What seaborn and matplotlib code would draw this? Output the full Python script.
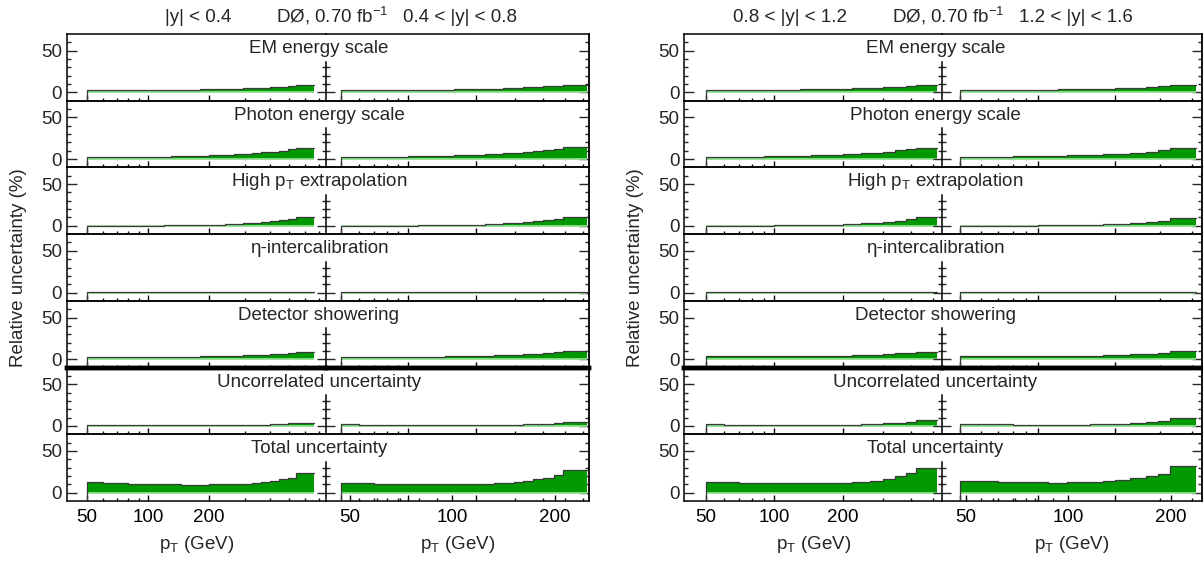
# jes_uncertainties.py
# DØ inclusive jet: relative uncertainty breakdown per rapidity bin

import numpy as np
import pandas as pd
import matplotlib
matplotlib.use("Agg")
import matplotlib.pyplot as plt
import seaborn as sns
from matplotlib.ticker import FixedLocator, NullFormatter, FixedFormatter

sns.set_style("white")
plt.rcParams["font.family"] = ["Liberation Sans", "DejaVu Sans"]
plt.rcParams["mathtext.fontset"] = "custom"
plt.rcParams["mathtext.rm"] = "Liberation Sans"
plt.rcParams["mathtext.it"] = "Liberation Sans:italic"

# ---- data -------------------------------------------------------------
rapidity_labels = ["|y| < 0.4", "0.4 < |y| < 0.8", "0.8 < |y| < 1.2", "1.2 < |y| < 1.6"]
experiment_label = r"DØ, 0.70 fb$^{\mathrm{-1}}$"
source_names = ["EM energy scale", "Photon energy scale",
                r"High p$_\mathrm{T}$ extrapolation", "η-intercalibration",
                "Detector showering", "Uncorrelated uncertainty", "Total uncertainty"]
xlabel_text = r"p$_\mathrm{T}$ (GeV)"
ylabel_text = "Relative uncertainty (%)"
tick_labels = ["50", "100", "200"]

# pT bin edges (GeV) per rapidity bin
edges_y0 = [50, 60, 70, 80, 90, 100, 110, 120, 130, 145, 160, 180, 200, 220, 240, 265, 295, 325, 360, 400, 445, 490, 540, 665]
edges_y1 = [50, 60, 70, 80, 90, 100, 110, 120, 130, 145, 160, 180, 200, 220, 240, 265, 295, 325, 360, 400, 445, 490, 630]
edges_y2 = [50, 60, 70, 80, 90, 100, 110, 120, 130, 145, 160, 180, 200, 220, 240, 265, 300, 340, 380, 420, 520]
edges_y3 = [50, 60, 70, 80, 90, 100, 110, 120, 130, 145, 160, 180, 200, 230, 265, 295, 330, 415]

# relative uncertainties (%), one list per rapidity bin
em_scale = [
    [2.5, 2.5, 2.6, 2.7, 2.8, 2.9, 3.0, 3.0, 3.1, 3.2, 3.4, 3.5, 3.7, 3.9, 4.1, 4.4, 4.8, 5.2, 5.7, 6.2, 6.8, 7.5, 8.5],
    [2.7, 2.7, 2.8, 2.8, 2.9, 3.0, 3.1, 3.2, 3.3, 3.4, 3.6, 3.8, 4.0, 4.3, 4.6, 5.0, 5.5, 6.0, 6.6, 7.3, 8.0, 9.0],
    [2.8, 2.8, 2.9, 3.0, 3.1, 3.2, 3.3, 3.4, 3.5, 3.7, 3.9, 4.1, 4.4, 4.7, 5.1, 5.6, 6.2, 6.9, 7.7, 8.5],
    [2.9, 2.9, 3.0, 3.1, 3.2, 3.3, 3.4, 3.5, 3.7, 3.9, 4.1, 4.5, 4.9, 5.5, 6.2, 7.1, 8.5],
]
photon_scale = [
    [2.0, 2.2, 2.4, 2.5, 2.7, 2.8, 3.0, 3.1, 3.3, 3.5, 3.8, 4.1, 4.4, 4.8, 5.2, 5.7, 6.4, 7.1, 8.0, 9.0, 10.2, 11.5, 13.5],
    [2.2, 2.4, 2.6, 2.8, 3.0, 3.2, 3.4, 3.6, 3.8, 4.1, 4.4, 4.8, 5.2, 5.7, 6.2, 6.9, 7.7, 8.6, 9.6, 10.8, 12.2, 14.0],
    [2.4, 2.6, 2.8, 3.0, 3.2, 3.4, 3.6, 3.8, 4.1, 4.4, 4.8, 5.2, 5.7, 6.3, 7.0, 7.9, 9.0, 10.3, 11.7, 13.5],
    [2.6, 2.8, 3.0, 3.2, 3.4, 3.6, 3.8, 4.1, 4.4, 4.8, 5.3, 5.9, 6.6, 7.6, 8.8, 10.3, 13.0],
]
high_pt = [
    [0.0, 0.0, 0.1, 0.1, 0.2, 0.3, 0.3, 0.4, 0.5, 0.6, 0.8, 1.0, 1.2, 1.5, 1.8, 2.2, 2.8, 3.4, 4.3, 5.3, 6.5, 8.0, 10.5],
    [0.0, 0.1, 0.1, 0.2, 0.2, 0.3, 0.4, 0.5, 0.6, 0.8, 1.0, 1.2, 1.5, 1.9, 2.3, 2.9, 3.6, 4.5, 5.5, 6.8, 8.5, 11.0],
    [0.0, 0.1, 0.1, 0.2, 0.3, 0.4, 0.5, 0.6, 0.7, 0.9, 1.2, 1.5, 1.9, 2.4, 3.0, 3.8, 4.9, 6.3, 8.0, 11.0],
    [0.0, 0.1, 0.2, 0.2, 0.3, 0.4, 0.5, 0.6, 0.8, 1.0, 1.3, 1.7, 2.3, 3.2, 4.4, 6.0, 9.5],
]
eta_intercal = [
    [0.6, 0.6, 0.6, 0.6, 0.6, 0.6, 0.6, 0.6, 0.6, 0.6, 0.6, 0.6, 0.6, 0.6, 0.6, 0.6, 0.6, 0.6, 0.6, 0.6, 0.6, 0.6, 0.6],
    [0.6, 0.6, 0.6, 0.6, 0.6, 0.6, 0.6, 0.6, 0.6, 0.6, 0.6, 0.6, 0.6, 0.6, 0.6, 0.6, 0.6, 0.6, 0.6, 0.6, 0.6, 0.6],
    [0.6, 0.6, 0.6, 0.6, 0.6, 0.6, 0.6, 0.6, 0.6, 0.6, 0.6, 0.6, 0.6, 0.6, 0.6, 0.6, 0.6, 0.6, 0.6, 0.6],
    [0.6, 0.6, 0.6, 0.6, 0.6, 0.6, 0.6, 0.6, 0.6, 0.6, 0.6, 0.6, 0.6, 0.6, 0.6, 0.6, 0.6],
]
showering = [
    [3.0, 2.9, 2.8, 2.8, 2.8, 2.8, 2.9, 2.9, 3.0, 3.1, 3.2, 3.3, 3.5, 3.7, 3.9, 4.2, 4.6, 5.0, 5.5, 6.0, 6.6, 7.3, 8.3],
    [3.2, 3.1, 3.0, 3.0, 3.0, 3.0, 3.1, 3.1, 3.2, 3.3, 3.5, 3.7, 3.9, 4.2, 4.5, 4.9, 5.4, 6.0, 6.7, 7.5, 8.5, 10.0],
    [3.5, 3.4, 3.3, 3.3, 3.3, 3.3, 3.4, 3.4, 3.5, 3.6, 3.8, 4.0, 4.3, 4.6, 5.0, 5.5, 6.2, 7.0, 8.0, 9.2],
    [3.8, 3.7, 3.6, 3.6, 3.6, 3.6, 3.7, 3.8, 3.9, 4.0, 4.2, 4.5, 5.0, 5.7, 6.5, 7.5, 9.5],
]
uncorrelated = [
    [1.6, 1.4, 1.3, 1.2, 1.1, 1.1, 1.0, 1.0, 1.0, 1.0, 1.0, 1.0, 1.0, 1.1, 1.1, 1.2, 1.3, 1.5, 1.7, 2.0, 2.4, 3.0, 3.8],
    [1.8, 1.5, 1.3, 1.2, 1.1, 1.1, 1.0, 1.0, 1.0, 1.0, 1.0, 1.1, 1.1, 1.2, 1.3, 1.5, 1.7, 2.0, 2.4, 2.9, 3.6, 5.0],
    [2.0, 1.7, 1.5, 1.4, 1.3, 1.2, 1.2, 1.2, 1.2, 1.2, 1.3, 1.4, 1.5, 1.7, 2.0, 2.4, 3.0, 3.9, 5.2, 7.5],
    [2.3, 2.0, 1.8, 1.6, 1.5, 1.5, 1.5, 1.5, 1.5, 1.6, 1.8, 2.1, 2.6, 3.4, 4.5, 6.2, 10.0],
]
total = [
    [12.5, 11.8, 11.2, 10.8, 10.5, 10.2, 10.0, 9.9, 9.8, 9.7, 9.7, 9.7, 9.8, 9.9, 10.0, 10.3, 10.8, 11.5, 12.5, 14.5, 16.0, 18.0, 23.4],
    [12.0, 11.0, 10.5, 10.2, 10.0, 10.0, 9.9, 9.9, 9.9, 9.9, 10.0, 10.1, 10.3, 10.6, 11.0, 11.5, 12.5, 14.0, 16.0, 17.7, 21.0, 27.0],
    [13.3, 12.5, 12.0, 11.6, 11.3, 11.2, 11.1, 11.1, 11.1, 11.2, 11.3, 11.5, 11.8, 12.3, 13.0, 14.0, 16.0, 19.4, 23.4, 30.0],
    [14.0, 13.6, 13.3, 12.8, 12.4, 12.2, 12.1, 12.1, 12.2, 12.5, 13.0, 13.8, 15.0, 17.0, 19.4, 22.5, 32.0],
]

all_edges = [edges_y0, edges_y1, edges_y2, edges_y3]
rows = [em_scale, photon_scale, high_pt, eta_intercal, showering, uncorrelated, total]

# ---- layout (pixels) --------------------------------------------------
W, H = 1203, 561
TOP, BOTTOM = 34.0, 501.0
ROW_H = (BOTTOM - TOP) / 7
YLIM = (-10, 70)
GREEN = "#009900"
EDGE = "#3a3a3a"
BASE = "#8fdf8f"
FS = 13.5

halves = [
    dict(left=66.7, mid=326.0, right=589.3, xl_a=(39.7, 758), xl_b=(42.9, 642), twin=(42.6, 252)),
    dict(left=684.3, mid=942.3, right=1201.5, xl_a=(40.1, 550), xl_b=(42.5, 436), twin=(42.7, 246)),
]

MAJ_X = [50, 100, 200]
MIN_X = [60, 70, 80, 90, 300, 400, 500, 600, 700]


def fx(px):
    return px / W


def fy(py):
    return 1 - py / H


def draw_hist(ax, edges, vals):
    edges = np.asarray(edges, float)
    vals = np.asarray(vals, float)
    df = pd.DataFrame({"pt": np.sqrt(edges[:-1] * edges[1:]), "unc": vals})
    # seaborn bins in log10 space once the axis is log scaled
    sns.histplot(data=df, x="pt", weights="unc", bins=np.log10(edges).tolist(), element="step",
                 fill=True, color=GREEN, alpha=1, linewidth=0, ax=ax, zorder=2)
    ax.hlines(0, edges[0], edges[-1], color=BASE, lw=1.3, zorder=3)
    line = pd.DataFrame({"pt": np.r_[edges[0], edges], "unc": np.r_[YLIM[0], vals, vals[-1]]})
    sns.lineplot(data=line, x="pt", y="unc", drawstyle="steps-post", sort=False,
                 estimator=None, color=EDGE, lw=0.9, ax=ax, zorder=4)


def style_x(ax, show_ticks=True):
    ax.xaxis.set_major_locator(FixedLocator(MAJ_X))
    ax.xaxis.set_minor_locator(FixedLocator(MIN_X))
    ax.xaxis.set_major_formatter(NullFormatter())
    ax.xaxis.set_minor_formatter(NullFormatter())
    ax.tick_params(axis="x", which="both", direction="in", bottom=show_ticks, top=False,
                   width=1.0, colors="black", labelsize=FS, pad=6.0)
    ax.tick_params(axis="x", which="major", length=4.3)
    ax.tick_params(axis="x", which="minor", length=2.4)


fig = plt.figure(figsize=(W / 100, H / 100), dpi=100)

for h, half in enumerate(halves):
    for r, src in enumerate(rows):
        top = TOP + r * ROW_H
        y0 = fy(top + ROW_H)
        ax_a = fig.add_axes([fx(half["left"]), y0, fx(half["mid"] - half["left"]), ROW_H / H])
        ax_b = fig.add_axes([fx(half["mid"]), y0, fx(half["right"] - half["mid"]), ROW_H / H])
        for k, ax in enumerate((ax_a, ax_b)):
            ax.set_xscale("log")
            ax.set_xlim(half["xl_a"] if k == 0 else half["xl_b"])
            ax.set_ylim(*YLIM)
            draw_hist(ax, all_edges[2 * h + k], src[2 * h + k])
            ax.set_xlim(half["xl_a"] if k == 0 else half["xl_b"])
            ax.set_ylim(*YLIM)
            ax.set_xlabel("")
            ax.set_ylabel("")
            ax.patch.set_alpha(0)
            for s in ax.spines.values():
                s.set_color("black")
                s.set_linewidth(1.1)
            if r == 4:
                ax.spines["bottom"].set_linewidth(3.2)
            if r == 5:
                ax.spines["top"].set_linewidth(3.2)

        # left sub-panel: labelled y axis
        ax_a.spines["right"].set_visible(False)
        ax_a.yaxis.set_major_locator(FixedLocator([0, 50]))
        ax_a.yaxis.set_minor_locator(FixedLocator([10, 20, 30, 40, 60]))
        ax_a.tick_params(axis="y", which="both", direction="in", left=True, right=False,
                         width=1.0, labelsize=FS, pad=3.5)
        ax_a.tick_params(axis="y", which="major", length=7.2)
        ax_a.tick_params(axis="y", which="minor", length=3.2)
        style_x(ax_a)

        # right sub-panel: short divider axis on the left, frame ticks on the right
        ax_b.spines["left"].set_bounds(-10, 37)
        ax_b.yaxis.set_major_locator(FixedLocator([0]))
        ax_b.yaxis.set_minor_locator(FixedLocator([10, 20, 30]))
        ax_b.yaxis.set_major_formatter(NullFormatter())
        ax_b.tick_params(axis="y", which="both", direction="inout", left=True, right=False,
                         width=1.0, labelleft=False)
        ax_b.tick_params(axis="y", which="major", length=12.5)
        ax_b.tick_params(axis="y", which="minor", length=5.8)
        sec = ax_b.secondary_yaxis("right")
        sec.yaxis.set_major_locator(FixedLocator([0, 50]))
        sec.yaxis.set_minor_locator(FixedLocator([10, 20, 30, 40, 60]))
        sec.yaxis.set_major_formatter(NullFormatter())
        sec.tick_params(axis="y", which="both", direction="in", width=1.0)
        sec.tick_params(axis="y", which="major", length=7.2)
        sec.tick_params(axis="y", which="minor", length=3.2)
        sec.spines["right"].set_linewidth(1.1)

        if r < 6:
            style_x(ax_b)
        else:
            style_x(ax_b, show_ticks=False)
            ax_a.xaxis.set_major_formatter(FixedFormatter(tick_labels))
            tw = ax_b.twiny()
            tw.set_xscale("log")
            tw.set_xlim(half["twin"])
            tw.xaxis.set_ticks_position("bottom")
            for s in tw.spines.values():
                s.set_visible(False)
            style_x(tw)
            tw.xaxis.set_major_formatter(FixedFormatter(tick_labels))

        # source name in the row
        fig.text(fx(half["mid"] - 7), fy(top + 19), source_names[r], ha="center",
                 va="baseline", fontsize=FS)

    # column headers and axis titles
    fig.text(fx(half["mid"] - 95), fy(22.5), rapidity_labels[2 * h], ha="right", va="baseline", fontsize=FS)
    fig.text(fx(half["mid"] - 50), fy(22.5), experiment_label, ha="left", va="baseline", fontsize=FS)
    fig.text(fx(half["mid"] + 77), fy(22.5), rapidity_labels[2 * h + 1],
             ha="left", va="baseline", fontsize=FS)
    fig.text(fx(half["left"] - 48.5), fy((TOP + BOTTOM) / 2), ylabel_text, rotation=90,
             ha="center", va="center", fontsize=FS)
    fig.text(fx((half["left"] + half["mid"]) / 2), fy(549), xlabel_text, ha="center",
             va="baseline", fontsize=FS)
    fig.text(fx((half["mid"] + half["right"]) / 2), fy(549), xlabel_text, ha="center",
             va="baseline", fontsize=FS)

fig.savefig("out.png", dpi=100)
